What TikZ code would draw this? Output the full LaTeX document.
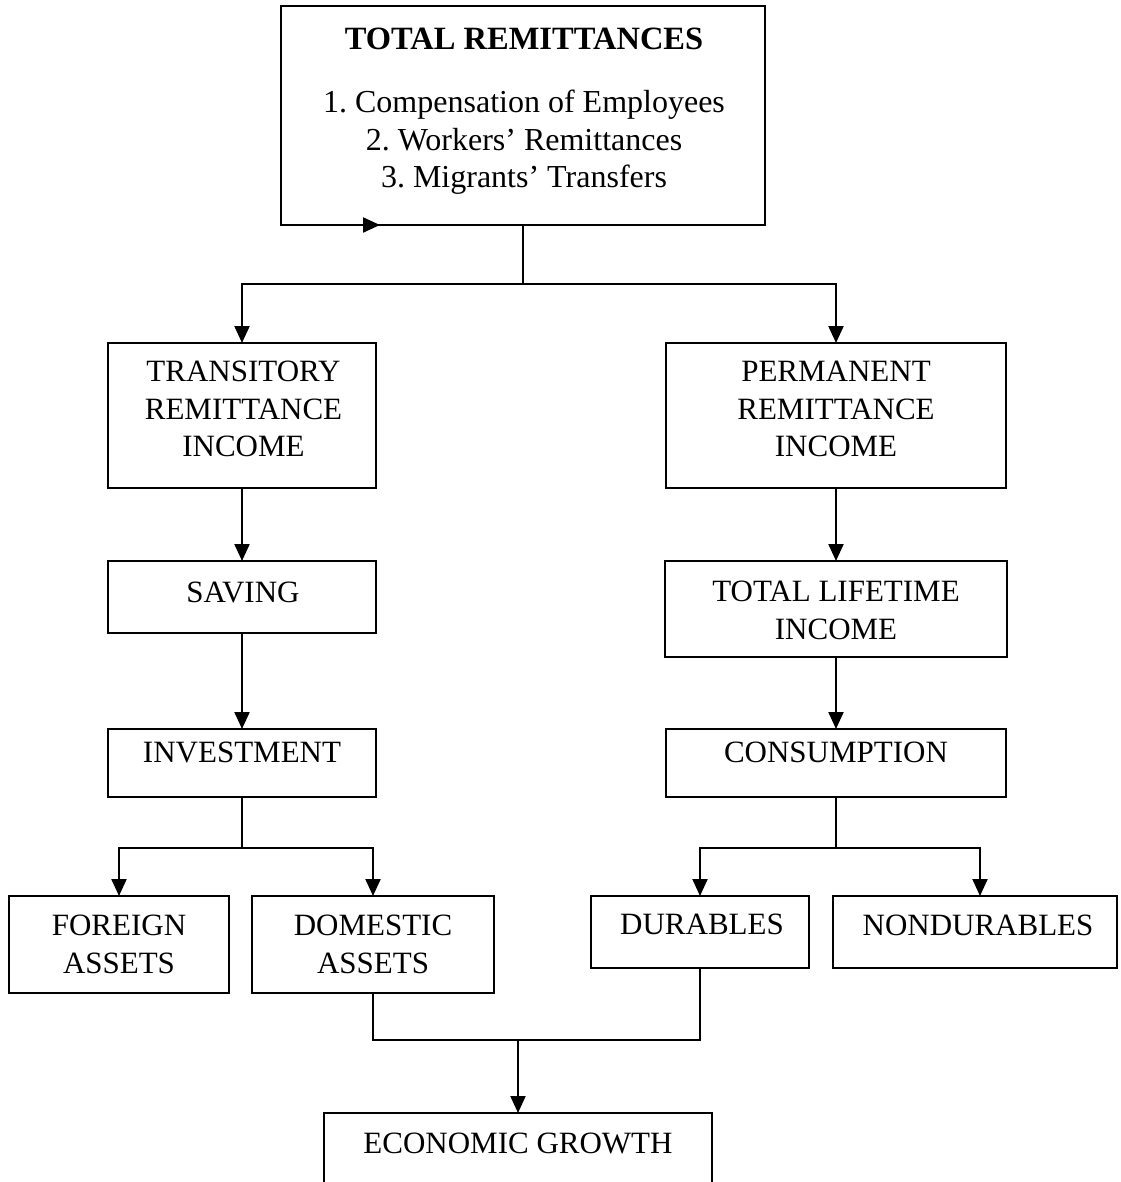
\documentclass[tikz,border=0pt]{standalone}
\usepackage{fontspec}
\setmainfont{Liberation Serif}
\usetikzlibrary{arrows.meta,calc}
\frenchspacing
\begin{document}
\begin{tikzpicture}[x=1pt,y=-1pt,
  box/.style={draw, line width=2.2pt, inner sep=0pt, outer sep=0pt},
  ln/.style={line width=2.2pt},
  arr/.style={line width=2.2pt, -{Triangle[width=15pt,length=17pt]}},
  txt/.style={font=\fontsize{31}{37.5}\selectfont, align=center, inner sep=0pt}
]
\useasboundingbox (0,0) rectangle (1120,1182);
\clip (0,0) rectangle (1120,1182);

% boxes
\node[box, minimum width=484pt, minimum height=219pt] (top)   at (523,115.5) {};
\node[box, minimum width=268pt, minimum height=145pt] (trans) at (242,415.5) {};
\node[box, minimum width=340pt, minimum height=145pt] (perm)  at (836,415.5) {};
\node[box, minimum width=268pt, minimum height=72pt]  (sav)   at (242,597) {};
\node[box, minimum width=342pt, minimum height=96pt]  (life)  at (836,609) {};
\node[box, minimum width=268pt, minimum height=68pt]  (inv)   at (242,763) {};
\node[box, minimum width=340pt, minimum height=68pt]  (cons)  at (836,763) {};
\node[box, minimum width=220pt, minimum height=97pt]  (fora)  at (119,944.5) {};
\node[box, minimum width=242pt, minimum height=97pt]  (doma)  at (373,944.5) {};
\node[box, minimum width=218pt, minimum height=72pt]  (dur)   at (700,932) {};
\node[box, minimum width=284pt, minimum height=72pt]  (non)   at (975,932) {};
\node[box, minimum width=388pt, minimum height=100pt] (eco)   at (518,1163) {};

% texts
\node[txt, font=\fontsize{32.5}{37.5}\selectfont\bfseries, anchor=base] (ttl) at (524,50) {TOTAL REMITTANCES};
\node[txt, font=\fontsize{32}{37.5}\selectfont, anchor=north] (lst) at (524,90) {1. Compensation of Employees\\2. Workers’ Remittances\\3. Migrants’ Transfers};
\node[txt, anchor=north] (ttrans) at (243.5,361) {TRANSITORY\\REMITTANCE\\INCOME};
\node[txt, anchor=north] (tperm) at (836,361) {PERMANENT\\REMITTANCE\\INCOME};
\node[txt, anchor=base] (tsav) at (243,602) {SAVING};
\node[txt, anchor=north] (tlife) at (836,581) {TOTAL LIFETIME\\INCOME};
\node[txt, anchor=base] (tinv) at (242,762) {INVESTMENT};
\node[txt, anchor=base] (tcons) at (836,762) {CONSUMPTION};
\node[txt, anchor=north] (tfor) at (119,915) {FOREIGN\\ASSETS};
\node[txt, anchor=north] (tdom) at (373,915) {DOMESTIC\\ASSETS};
\node[txt, anchor=base] (tdur) at (702,934) {DURABLES};
\node[txt, anchor=base] (tnon) at (978,935) {NONDURABLES};
\node[txt, anchor=base] (teco) at (518,1153) {ECONOMIC GROWTH};

% split / merge points
\coordinate (s1) at (523,284);
\coordinate (s2) at (242,848);
\coordinate (s3) at (836,848);
\coordinate (m)  at (518,1040);
\coordinate (ta) at (360,225);
\coordinate (tb) at (380,225);

% connectors
\draw[arr] (ta) -- (tb);
\draw[ln] (top.south) -- (s1);
\draw[arr] (s1) -| (trans.north);
\draw[arr] (s1) -| (perm.north);
\draw[arr] (trans.south) -- (sav.north);
\draw[arr] (sav.south) -- (inv.north);
\draw[arr] (perm.south) -- (life.north);
\draw[arr] (life.south) -- (cons.north);
\draw[ln] (inv.south) -- (s2);
\draw[arr] (s2) -| (fora.north);
\draw[arr] (s2) -| (doma.north);
\draw[ln] (cons.south) -- (s3);
\draw[arr] (s3) -| (dur.north);
\draw[arr] (s3) -| ($(non.north)+(5,0)$);
\draw[ln] (doma.south) |- (m) -| (dur.south);
\draw[arr] (m) -- (eco.north);
\end{tikzpicture}
\end{document}
